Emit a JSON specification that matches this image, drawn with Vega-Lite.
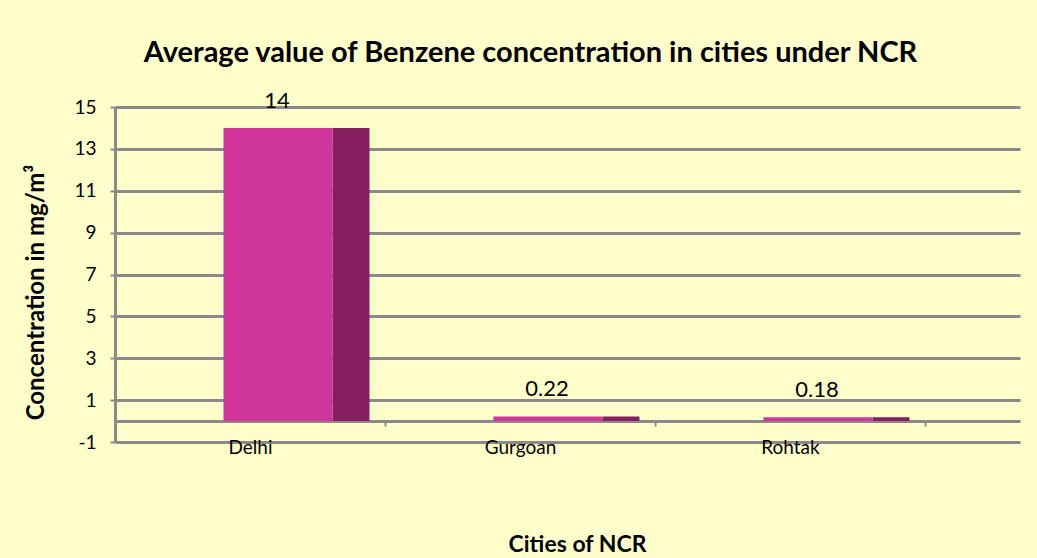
{
  "$schema": "https://vega.github.io/schema/vega-lite/v6.json",
  "autosize": "none",
  "width": 905,
  "height": 335,
  "padding": {"left": 115, "top": 107, "right": 17, "bottom": 116},
  "background": "#FFFFCC",
  "config": {
    "font": "Lato",
    "view": {"stroke": null},
    "axis": {"labelFont": "Lato", "titleFont": "Lato"}
  },
  "title": {
    "text": "Average value of Benzene concentration in cities under NCR",
    "font": "Lato",
    "fontSize": 29,
    "fontWeight": "bold",
    "color": "#000000",
    "anchor": "middle",
    "dx": -37,
    "offset": 22
  },
  "data": {
    "values": [
      {"city": "Delhi", "value": 14, "label": "14"},
      {"city": "Gurgoan", "value": 0.22, "label": "0.22"},
      {"city": "Rohtak", "value": 0.18, "label": "0.18"}
    ]
  },
  "encoding": {
    "x": {
      "field": "city",
      "type": "nominal",
      "sort": null,
      "scale": {"paddingInner": 0, "paddingOuter": 0.176, "align": 0},
      "axis": {
        "title": "Cities of NCR",
        "titleFontSize": 23,
        "titleFontWeight": "bold",
        "titleColor": "#000000",
        "titleX": 462,
        "titleY": 123,
        "titleBaseline": "middle",
        "titleAlign": "center",
        "titleAnchor": null,
        "offset": -21,
        "labelAngle": 0,
        "labelFontSize": 19,
        "labelColor": "#000000",
        "labelPadding": 12,
        "tickBand": "extent",
        "ticks": true,
        "tickSize": 5,
        "tickColor": "#8a8a8a",
        "tickWidth": 2,
        "domainColor": "#8a8a8a",
        "domainWidth": 3,
        "grid": false
      }
    },
    "y": {
      "field": "value",
      "type": "quantitative",
      "scale": {"domain": [-1, 15], "nice": false, "zero": false},
      "axis": {
        "values": [-1, 1, 3, 5, 7, 9, 11, 13, 15],
        "labelExpr": "replace(datum.label, '\u2212', '-')",
        "title": "Concentration in mg/m³",
        "titleFontSize": 24,
        "titleFontWeight": "bold",
        "titleColor": "#000000",
        "titleAngle": -90,
        "titleX": -79,
        "titleY": 185,
        "titleAlign": "center",
        "titleBaseline": "middle",
        "titleAnchor": null,
        "labelFontSize": 19,
        "labelColor": "#000000",
        "labelPadding": 14,
        "tickSize": 5,
        "tickColor": "#8a8a8a",
        "tickWidth": 2,
        "domainColor": "#8a8a8a",
        "domainWidth": 3,
        "grid": true,
        "gridColor": "#8a8a8a",
        "gridWidth": 3,
        "gridOpacity": 1
      }
    }
  },
  "layer": [
    {
      "mark": {"type": "bar", "color": "#851F5F", "width": 37, "xOffset": 101},
      "encoding": {"y2": {"datum": 0}}
    },
    {
      "mark": {"type": "bar", "color": "#D03599", "width": 109, "xOffset": 28},
      "encoding": {"y2": {"datum": 0}}
    },
    {
      "mark": {"type": "text", "fontSize": 22, "color": "#000000", "dx": 27, "dy": -27, "baseline": "middle", "align": "center"},
      "encoding": {"text": {"field": "label"}}
    }
  ]
}
